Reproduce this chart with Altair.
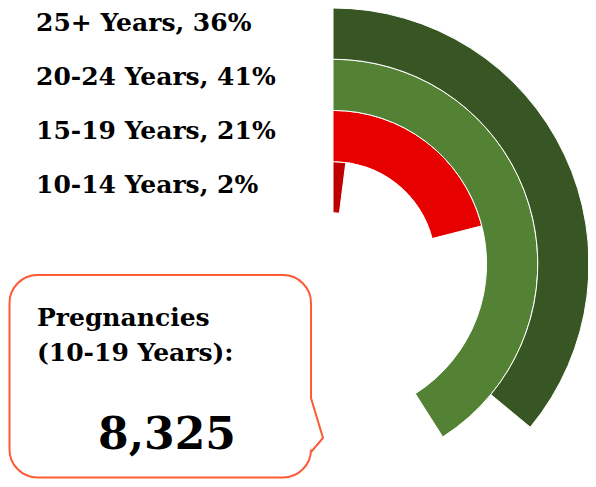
import math
import altair as alt
import pandas as pd

# ---- data ----
categories = ["10-14 Years", "15-19 Years", "20-24 Years", "25+ Years"]
percentages = [2, 21, 41, 36]
ring_colors = ["#C00000", "#E60000", "#548235", "#375623"]
callout_lines = ["Pregnancies", "(10-19 Years):"]
callout_total = 8325

FONT = "DejaVu Serif"
BORDER = "#FF5A36"

df = pd.DataFrame({
    "category": categories,
    "pct": percentages,
    "ring": list(range(1, len(categories) + 1)),
})

base = alt.Chart(df).transform_calculate(
    zero="0",
    inner="datum.ring",
    outer="datum.ring + 1",
    label="datum.category + ', ' + datum.pct + '%'",
)

color = alt.Color("category:N", scale=alt.Scale(domain=categories, range=ring_colors), legend=None)

arcs = base.mark_arc(stroke="white", strokeWidth=1).encode(
    theta=alt.Theta("pct:Q", stack=False,
                    scale=alt.Scale(domain=[0, 100], range=[0, 2 * math.pi])),
    theta2=alt.Theta2("zero:Q"),
    radius=alt.Radius("outer:Q",
                      scale=alt.Scale(type="linear", domain=[0, 5], range=[0, 256], zero=True)),
    radius2=alt.Radius2("inner:Q"),
    color=color,
    x=alt.value(325),
    y=alt.value(256),
)

labels = base.mark_text(
    align="left", baseline="alphabetic", font=FONT, fontWeight="bold",
    fontSize=25, color="black",
).encode(
    text="label:N",
    x=alt.value(28),
    y=alt.Y("outer:Q", scale=alt.Scale(domain=[2, 5], range=[185, 23]), axis=None),
)

# ---- callout box ----
L, T, R, B, r = 1.5, 267.0, 303.0, 469.5, 28.0
k = 0.5523 * r
px, p1, tipy, p2 = 315.0, 390.0, 430.0, 444.0
path = (
    f"M{L + r},{T} L{R - r},{T} "
    f"C{R - r + k},{T} {R},{T + r - k} {R},{T + r} "
    f"L{R},{p1} L{px},{tipy} L{R},{p2} "
    f"L{R},{B - r} "
    f"C{R},{B - r + k} {R - r + k},{B} {R - r},{B} "
    f"L{L + r},{B} "
    f"C{L + r - k},{B} {L},{B - r + k} {L},{B - r} "
    f"L{L},{T + r} "
    f"C{L},{T + r - k} {L + r - k},{T} {L + r},{T} Z"
)

box_df = pd.DataFrame({"title": [callout_lines[0]], "sub": [callout_lines[1]],
                       "total": [f"{callout_total:,}"]})
box_base = alt.Chart(box_df)

box = box_base.mark_point(
    shape=path, size=4, filled=False, stroke=BORDER, strokeWidth=2, opacity=1
).encode(x=alt.value(0), y=alt.value(0))

t1 = box_base.mark_text(align="left", baseline="alphabetic", font=FONT,
                        fontWeight="bold", fontSize=25, color="black").encode(
    text="title:N", x=alt.value(29), y=alt.value(318))
t2 = box_base.mark_text(align="left", baseline="alphabetic", font=FONT,
                        fontWeight="bold", fontSize=25, color="black").encode(
    text="sub:N", x=alt.value(29), y=alt.value(353))
t3 = box_base.mark_text(align="center", baseline="alphabetic", font=FONT,
                        fontWeight="bold", fontSize=44, color="black").encode(
    text="total:N", x=alt.value(159), y=alt.value(441))

chart = alt.layer(arcs, labels, box, t1, t2, t3).properties(
    width=580, height=471, padding=0, autosize=alt.AutoSizeParams(type="none"),
    background="white",
).configure_view(stroke=None)

chart.save("out.html", embed_options={"renderer": "svg", "actions": False})
